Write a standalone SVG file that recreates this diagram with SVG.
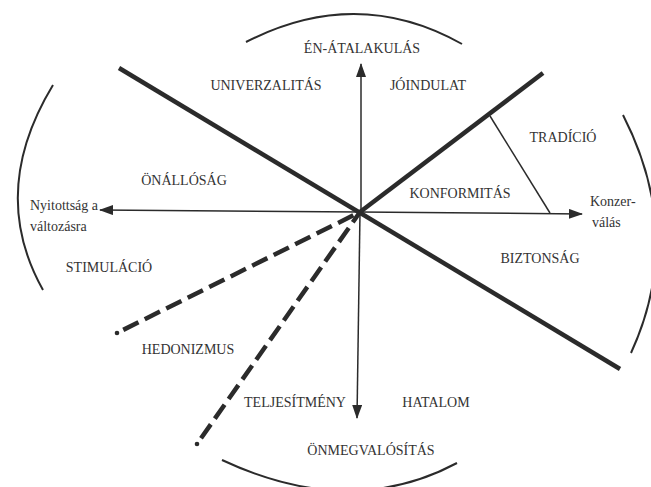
<svg xmlns="http://www.w3.org/2000/svg" width="651" height="487" viewBox="0 0 651 487">
<defs>
<style>
text{font-family:'Liberation Serif','DejaVu Serif','Times New Roman',serif;font-size:14px;fill:#333}
.t{text-anchor:middle}
.tl{text-anchor:start}
.thick{stroke:#2b2b2b;stroke-width:4.5;fill:none;stroke-linecap:butt}
.dash{stroke:#2b2b2b;stroke-width:4.5;fill:none;stroke-dasharray:17 7;stroke-dashoffset:17}
.thin{stroke:#2b2b2b;stroke-width:1.5;fill:none}
.arc{stroke:#2b2b2b;stroke-width:2;fill:none}
</style>
<marker id="ah" viewBox="0 0 14 10" refX="13" refY="5" markerWidth="14" markerHeight="10" markerUnits="userSpaceOnUse" orient="auto-start-reverse">
<path d="M0,0 L14,5 L0,10 z" fill="#2b2b2b"/>
</marker>
</defs>
<rect width="651" height="487" fill="#ffffff"/>
<g id="arcs">
<path class="arc" d="M246,42 Q357,-15 462,44"/>
<path class="arc" d="M222,460 Q350,520 457,463"/>
<path class="arc" d="M53,85 Q-12,192 43,290"/>
<path class="arc" d="M623,115 Q685,236 631,353"/>
</g>
<g id="connectors">
<line class="thin" x1="361" y1="212" x2="361" y2="64" marker-end="url(#ah)"/>
<line class="thin" x1="360" y1="212" x2="357" y2="418" marker-end="url(#ah)"/>
<line class="thin" x1="360" y1="212" x2="100" y2="210" marker-end="url(#ah)"/>
<line class="thin" x1="360" y1="212" x2="582" y2="214" marker-end="url(#ah)"/>
<line class="thin" x1="490" y1="116" x2="550" y2="213"/>
<line class="thick" x1="119" y1="68" x2="620" y2="369"/>
<line class="thick" x1="360" y1="212" x2="543" y2="73"/>
<path class="dash" d="M117,333 L360,212"/>
<circle cx="117" cy="333" r="2.3" fill="#2b2b2b"/>
<path class="dash" d="M197,444 L360,212"/>
<circle cx="197" cy="444" r="2.3" fill="#2b2b2b"/>
</g>
<g id="en-atalakulas"><text class="t" x="362" y="53">ÉN-ÁTALAKULÁS</text></g>
<g id="univerzalitas"><text class="t" x="266" y="90">UNIVERZALITÁS</text></g>
<g id="joindulat"><text class="t" x="428" y="90">JÓINDULAT</text></g>
<g id="tradicio"><text class="t" x="563" y="142">TRADÍCIÓ</text></g>
<g id="onallosag"><text class="t" x="184" y="185">ÖNÁLLÓSÁG</text></g>
<g id="konformitas"><text class="t" x="460" y="198">KONFORMITÁS</text></g>
<g id="nyitottsag"><text class="tl" x="30" y="210">Nyitottság  a</text><text class="tl" x="30" y="231">változásra</text></g>
<g id="konzervalas"><text class="tl" x="590" y="206">Konzer-</text><text class="tl" x="592" y="227">válás</text></g>
<g id="stimulacio"><text class="t" x="109" y="272">STIMULÁCIÓ</text></g>
<g id="biztonsag"><text class="t" x="540" y="263">BIZTONSÁG</text></g>
<g id="hedonizmus"><text class="t" x="188" y="354">HEDONIZMUS</text></g>
<g id="teljesitmeny"><text class="t" x="295" y="407">TELJESÍTMÉNY</text></g>
<g id="hatalom"><text class="t" x="436" y="407">HATALOM</text></g>
<g id="onmegvalositas"><text class="t" x="371" y="455">ÖNMEGVALÓSÍTÁS</text></g>
</svg>
